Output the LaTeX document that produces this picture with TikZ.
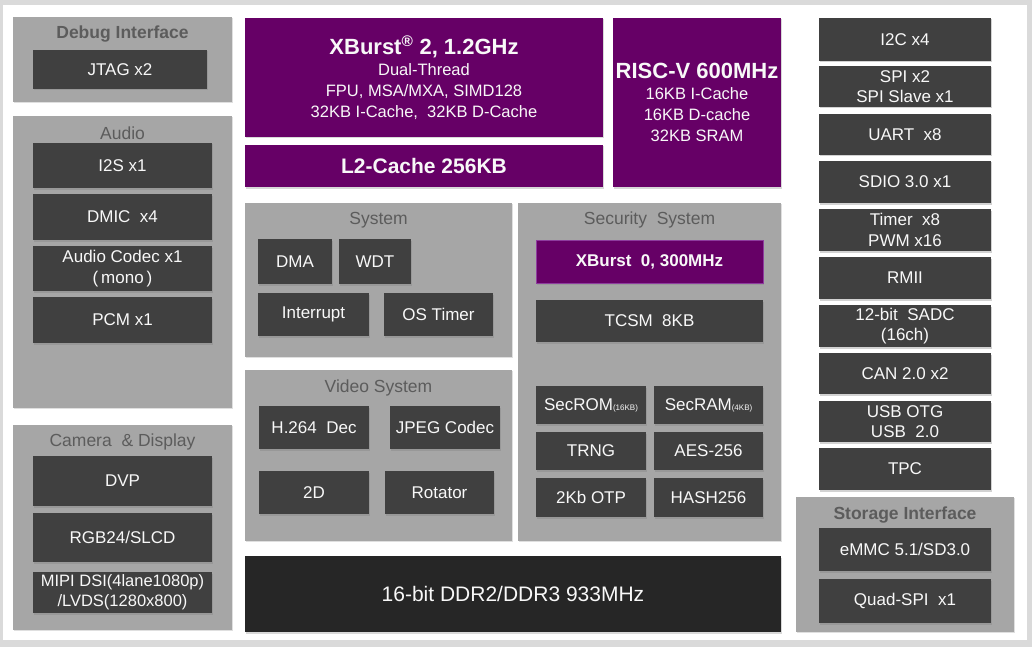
\documentclass[tikz,border=0pt]{standalone}
\usepackage{fontspec}
\setmainfont{Liberation Sans}
\usetikzlibrary{shadows}
\definecolor{framegray}{HTML}{DADADA}
\definecolor{grpgray}{HTML}{A6A6A6}
\definecolor{ttlgray}{HTML}{5C5C5C}
\definecolor{darkbox}{HTML}{404040}
\definecolor{purp}{HTML}{660066}
\definecolor{purpedge}{HTML}{8E3C9E}
\definecolor{ddrbox}{HTML}{262626}
\definecolor{boxtxt}{HTML}{F8F8F8}
\newcommand\bx[7]{%
  \pgfmathsetmacro\bxcx{(#2+#4)/2}\pgfmathsetmacro\bxcy{(#3+#5)/2}%
  \pgfmathsetmacro\bxw{#4-#2}\pgfmathsetmacro\bxh{#5-#3}%
  \node[#6, minimum width=\bxw pt, minimum height=\bxh pt] (#1) at (\bxcx,\bxcy) {#7};}
\tikzset{
  base/.style={inner sep=0pt, outer sep=0pt, align=center, text=boxtxt},
  grp/.style={base, fill=grpgray, drop shadow={shadow xshift=1.2pt, shadow yshift=-1.2pt, opacity=0.25}},
  dbox/.style={base, fill=darkbox, font=\fontsize{17}{20.5}\selectfont, drop shadow={shadow xshift=1.2pt, shadow yshift=-1.5pt, opacity=0.35}},
  pbox/.style={base, fill=purp, font=\fontsize{16.5}{21}\selectfont, drop shadow={shadow xshift=1.2pt, shadow yshift=-1.5pt, opacity=0.3}},
  ddr/.style={base, fill=ddrbox, font=\fontsize{21}{24}\selectfont, drop shadow={shadow xshift=1.2pt, shadow yshift=-1.5pt, opacity=0.3}},
  ttl/.style={text=ttlgray, font=\fontsize{17.5}{20}\selectfont, inner sep=0pt},
}
\begin{document}
\begin{tikzpicture}[x=1pt,y=-1pt]
\fill[framegray] (0,0) rectangle (1032,647);
\fill[white] (3,5) rectangle (1027,640);
\useasboundingbox (0,0) rectangle (1032,647);

% groups
\bx{gdebug}{13}{17}{232}{102}{grp}{}
\bx{gaudio}{13}{116}{232}{408}{grp}{}
\bx{gcam}{13}{425}{232}{630}{grp}{}
\bx{gsys}{245}{203}{512}{357}{grp}{}
\bx{gvid}{245}{370}{512}{541}{grp}{}
\bx{gsec}{518}{203}{781}{541}{grp}{}
\bx{gstor}{796}{497}{1014}{632}{grp}{}

\node[ttl] (tdebug) at (122.5,34) {\bfseries Debug Interface};
\node[ttl] (taudio) at (122.5,133) {Audio};
\node[ttl] (tcam) at (122.5,442) {Camera\ \ \& Display};
\node[ttl] (tsys) at (378.5,220) {System};
\node[ttl] (tvid) at (378.5,388) {Video System};
\node[ttl] (tsec) at (649.5,220) {Security\ \ System};
\node[ttl] (tstor) at (905,515) {\bfseries Storage Interface};

% left column
\bx{jtag}{33}{50}{207}{89}{dbox}{JTAG x2}
\bx{i2s}{33}{143}{212}{188}{dbox}{I2S x1}
\bx{dmic}{33}{194}{212}{240}{dbox}{DMIC\ \ x4}
\bx{codec}{33}{246}{212}{291}{dbox}{Audio Codec x1\\(\,mono\,)}
\bx{pcm}{33}{297}{212}{343}{dbox}{PCM x1}
\bx{dvp}{33}{456}{212}{506}{dbox}{DVP}
\bx{rgb}{33}{513}{212}{562}{dbox}{RGB24/SLCD}
\bx{mipi}{33}{572}{212}{613}{dbox, font=\fontsize{16.5}{20}\selectfont}{MIPI DSI(4lane1080p)\\/LVDS(1280x800)}

% cores
\bx{xb2}{245}{18}{603}{137}{pbox}{{\bfseries\fontsize{22}{23}\selectfont XBurst\textsuperscript{®} 2, 1.2GHz}\\Dual-Thread\\FPU, MSA/MXA, SIMD128\\32KB I-Cache,\ \ 32KB D-Cache}
\bx{l2}{245}{145}{603}{187}{pbox}{\bfseries\fontsize{21}{24}\selectfont L2-Cache 256KB}
\bx{riscv}{613}{18}{781}{187}{pbox}{{\bfseries\fontsize{22}{23}\selectfont RISC-V 600MHz}\\16KB I-Cache\\16KB D-cache\\32KB SRAM}

% system
\bx{dma}{258}{239}{332}{284}{dbox}{DMA}
\bx{wdt}{339}{239}{411}{284}{dbox}{WDT}
\bx{intr}{258}{293}{369}{336}{dbox}{Interrupt}
\bx{ost}{384}{293}{493}{336}{dbox}{OS Timer}

% video
\bx{h264}{259}{406}{369}{449}{dbox}{H.264\ \ Dec}
\bx{jpeg}{390}{406}{500}{449}{dbox}{JPEG Codec}
\bx{twod}{259}{471}{369}{514}{dbox}{2D}
\bx{rot}{385}{471}{494}{514}{dbox}{Rotator}

% security
\bx{xb0}{536}{240}{763}{283}{pbox, draw=purpedge, line width=1pt}{\bfseries\fontsize{17}{20}\selectfont XBurst\ \ 0, 300MHz}
\bx{tcsm}{536}{300}{763}{342}{dbox}{TCSM\ \ 8KB}
\bx{secrom}{536}{386}{646}{424}{dbox}{SecROM{\fontsize{8}{8}\selectfont(16KB)}}
\bx{secram}{654}{386}{763}{424}{dbox}{SecRAM{\fontsize{8}{8}\selectfont(4KB)}}
\bx{trng}{536}{432}{646}{470}{dbox}{TRNG}
\bx{aes}{654}{432}{763}{470}{dbox}{AES-256}
\bx{otp}{536}{478}{646}{517}{dbox}{2Kb OTP}
\bx{hash}{654}{478}{763}{517}{dbox}{HASH256}

% ddr
\bx{ddrb}{245}{556}{781}{632}{ddr}{16-bit DDR2/DDR3 933MHz}

% right column
\bx{i2c}{819}{18}{991}{61}{dbox}{I2C x4}
\bx{spi}{819}{66}{991}{107}{dbox}{SPI x2\\SPI Slave x1}
\bx{uart}{819}{114}{991}{155}{dbox}{UART\ \ x8}
\bx{sdio}{819}{161}{991}{203}{dbox}{SDIO 3.0 x1}
\bx{timer}{819}{209}{991}{251}{dbox}{Timer\ \ x8\\PWM x16}
\bx{rmii}{819}{257}{991}{299}{dbox}{RMII}
\bx{sadc}{819}{305}{991}{347}{dbox}{12-bit\ \ SADC\\(16ch)}
\bx{can}{819}{353}{991}{394}{dbox}{CAN 2.0 x2}
\bx{usb}{819}{401}{991}{442}{dbox}{USB OTG\\USB\ \ 2.0}
\bx{tpc}{819}{448}{991}{490}{dbox}{TPC}
\bx{emmc}{819}{528}{991}{571}{dbox}{eMMC 5.1/SD3.0}
\bx{qspi}{819}{579}{991}{623}{dbox}{Quad-SPI\ \ x1}
\end{tikzpicture}
\end{document}
